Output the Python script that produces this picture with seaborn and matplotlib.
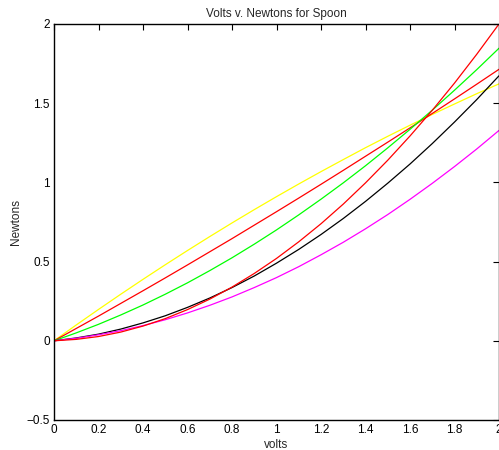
import matplotlib
matplotlib.use("Agg")
import matplotlib.pyplot as plt
import seaborn as sns
import pandas as pd

volts = [0.0, 0.1, 0.2, 0.3, 0.4, 0.5, 0.6, 0.7, 0.8, 0.9, 1.0,
         1.1, 1.2, 1.3, 1.4, 1.5, 1.6, 1.7, 1.8, 1.9, 2.0]

yellow_series = [0.0, 0.100, 0.198, 0.294, 0.388, 0.480, 0.570, 0.658, 0.744, 0.828, 0.910,
                 0.990, 1.068, 1.144, 1.219, 1.291, 1.361, 1.429, 1.495, 1.560, 1.622]
red_linear_series = [0.0, 0.078, 0.156, 0.236, 0.316, 0.397, 0.479, 0.562, 0.645, 0.730, 0.815,
                     0.901, 0.988, 1.076, 1.165, 1.254, 1.344, 1.435, 1.527, 1.620, 1.714]
green_series = [0.0, 0.050, 0.104, 0.163, 0.226, 0.294, 0.366, 0.443, 0.524, 0.610, 0.700,
                0.795, 0.894, 0.997, 1.105, 1.218, 1.335, 1.456, 1.582, 1.712, 1.847]
black_series = [0.0, 0.018, 0.042, 0.074, 0.113, 0.158, 0.211, 0.270, 0.336, 0.409, 0.490,
                0.577, 0.671, 0.772, 0.880, 0.995, 1.116, 1.245, 1.381, 1.523, 1.673]
magenta_series = [0.0, 0.016, 0.038, 0.064, 0.096, 0.133, 0.176, 0.224, 0.277, 0.336, 0.399,
                  0.468, 0.543, 0.622, 0.707, 0.797, 0.893, 0.994, 1.100, 1.211, 1.328]
red_steep_series = [0.0, 0.009, 0.027, 0.055, 0.093, 0.140, 0.197, 0.263, 0.339, 0.425, 0.520,
                    0.625, 0.739, 0.863, 0.997, 1.140, 1.293, 1.455, 1.627, 1.809, 2.000]

series_names = ["yellow", "red1", "green", "black", "magenta", "red2"]
series_values = [yellow_series, red_linear_series, green_series,
                 black_series, magenta_series, red_steep_series]
series_colors = ["#FFFF00", "#FF0000", "#00FF00", "#000000", "#FF00FF", "#FF0000"]

x_ticks = [0, 0.2, 0.4, 0.6, 0.8, 1, 1.2, 1.4, 1.6, 1.8, 2]
x_tick_labels = ["0", "0.2", "0.4", "0.6", "0.8", "1", "1.2", "1.4", "1.6", "1.8", "2"]
y_ticks = [-0.5, 0, 0.5, 1, 1.5, 2]
y_tick_labels = ["\u22120.5", "0", "0.5", "1", "1.5", "2"]

rows = []
for name, vals in zip(series_names, series_values):
    for xv, yv in zip(volts, vals):
        rows.append({"volts": xv, "newtons": yv, "series": name})
df = pd.DataFrame(rows)

sns.set_style("white")
plt.rcParams["font.family"] = ["Liberation Sans", "DejaVu Sans"]

fig = plt.figure(figsize=(4.99, 4.5), dpi=100)
ax = fig.add_axes([54 / 499, 30 / 450, 445 / 499, 396 / 450])

sns.lineplot(data=df, x="volts", y="newtons", hue="series",
             palette=dict(zip(series_names, series_colors)),
             hue_order=series_names, estimator=None, sort=False,
             legend=False, linewidth=0.9, ax=ax)

ax.set_xlim(0, 2)
ax.set_ylim(-0.5, 2)
ax.set_xticks(x_ticks)
ax.set_xticklabels(x_tick_labels)
ax.set_yticks(y_ticks)
ax.set_yticklabels(y_tick_labels)
ax.tick_params(direction="in", length=4, width=0.8, labelsize=8.5,
               top=True, right=True, colors="black", pad=3)
for sp in ax.spines.values():
    sp.set_visible(True)
    sp.set_color("black")
    sp.set_linewidth(1.0)

ax.set_title("Volts v. Newtons for Spoon", fontsize=8.5, pad=5)
ax.set_xlabel("volts", fontsize=8.5, labelpad=2)
ax.set_ylabel("Newtons", fontsize=8.5, labelpad=3)

fig.savefig("out.png", dpi=100, facecolor="white")
